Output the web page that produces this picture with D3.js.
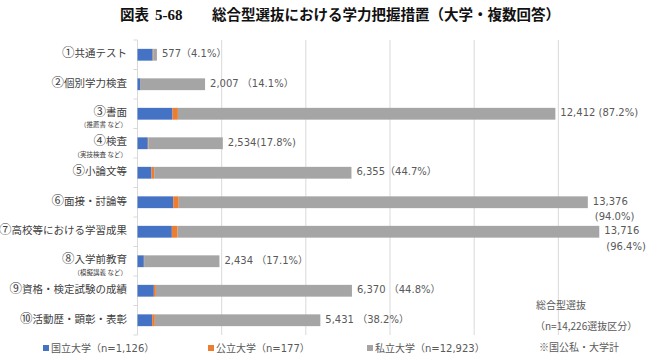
<!DOCTYPE html>
<html><head><meta charset="utf-8">
<script src="https://cdn.jsdelivr.net/npm/d3@7"></script>
<style>body{margin:0;background:#fff}svg{display:block}</style>
</head><body>
<svg id="c" width="650" height="361"></svg>
<script>
const categories = ["①共通テスト","②個別学力検査","③書面","④検査","⑤小論文等","⑥面接・討論等","⑦高校等における学習成果","⑧入学前教育","⑨資格・検定試験の成績","⑩活動歴・顕彰・表彰"];
const subLabels = ["","","（推薦書 など）","（実技検査 など）","","","","（模擬講義 など）","",""];
const national = [450, 90, 1040, 306, 415, 1060, 1020, 188, 485, 435];
const publicU  = [17, 7, 160, 20, 80, 165, 170, 8, 60, 80];
const privateU = [110, 1910, 11212, 2208, 5860, 12151, 12526, 2238, 5825, 4916];
const totals   = [577, 2007, 12412, 2534, 6355, 13376, 13716, 2434, 6370, 5431];
const valueLabels = [["577（4.1%）"],["2,007 （14.1%）"],["12,412 (87.2%)"],["2,534(17.8%)"],["6,355（44.7%）"],["13,376","(94.0%)"],["13,716","(96.4%)"],["2,434 （17.1%）"],["6,370 （44.8%）"],["5,431 （38.2%）"]];
const seriesNames = ["国立大学（n=1,126）","公立大学（n=177）","私立大学（n=12,923）"];
const xTicks = [2500, 5000, 7500, 10000, 12500];
const titlePrefix = "図表";
const titleNum = "5-68";
const titleMain = "総合型選抜における学力把握措置（大学・複数回答）";
const notes = ["総合型選抜","（n=14,226選抜区分）","※国公私・大学計"];

const colors = ["#4472C4","#ED7D31","#A5A5A5"];
const svg = d3.select("#c");
const jp = "'Noto Sans CJK JP','Noto Sans',sans-serif";
const num = "'DejaVu Sans','Noto Sans CJK JP',sans-serif";

const x = d3.scaleLinear().domain([0,15000]).range([137.5,642.5]);
const y = d3.scaleBand().domain(categories).range([40,335]).paddingInner(0.6).paddingOuter(0.3);

// gridlines
svg.append("g").selectAll("line").data(xTicks).join("line")
  .attr("x1",d=>x(d)).attr("x2",d=>x(d)).attr("y1",40).attr("y2",335)
  .attr("stroke","#d9d9d9").attr("stroke-width",1);

// left axis line and ticks
const gap = (y.step()-y.bandwidth())/2;
const bounds = categories.map(c=>y(c)-gap).concat([y(categories[9])+y.bandwidth()+gap]);
svg.append("line").attr("x1",x(0)).attr("x2",x(0)).attr("y1",40).attr("y2",335).attr("stroke","#d9d9d9");
svg.append("g").selectAll("line").data(bounds).join("line")
  .attr("x1",x(0)-4).attr("x2",x(0)).attr("y1",d=>d).attr("y2",d=>d).attr("stroke","#d9d9d9");

// stacked bars
const rows = categories.map((c,i)=>({c, v:[national[i],publicU[i],privateU[i]]}));
const stack = d3.stack().keys([0,1,2]).value((d,k)=>d.v[k]);
const stacked = stack(rows);
svg.append("g").selectAll("g").data(stacked).join("g").attr("fill",(d,i)=>colors[i])
  .selectAll("rect").data(d=>d).join("rect")
  .attr("x",d=>x(d[0])).attr("width",d=>x(d[1])-x(d[0]))
  .attr("y",d=>y(d.data.c)).attr("height",y.bandwidth());

// category labels
categories.forEach((c,i)=>{
  const cy = y(c)+y.bandwidth()/2;
  const hasSub = subLabels[i] !== "";
  const t = svg.append("text").attr("x",127).attr("y",cy+(hasSub?-1.5:-1)).attr("dy","0.35em")
    .attr("text-anchor","end").attr("font-family",jp).attr("font-size",10.5).attr("fill","#404040");
  t.append("tspan").attr("font-size",12.5).text(c.slice(0,1));
  t.append("tspan").text(c.slice(1));
  if(hasSub){
    svg.append("text").attr("x",127).attr("y",cy+11).attr("dy","0.35em")
      .attr("text-anchor","end").attr("font-family",jp).attr("font-size",6.5).attr("fill","#404040").text(subLabels[i]);
  }
});

// value labels
categories.forEach((c,i)=>{
  const cy = y(c)+y.bandwidth()/2;
  const lines = valueLabels[i];
  const t = svg.append("text").attr("font-family",num).attr("font-size",10).attr("fill","#595959");
  lines.forEach((l,j)=>{
    t.append("tspan").attr("x",x(totals[i])+5+(j>0?2:0)).attr("y",cy-1+j*15.5).attr("dy","0.35em").text(l);
  });
});

// title
const tt = svg.append("text").attr("y",20).attr("font-weight","bold").attr("fill","#111").attr("font-size",14.5);
tt.append("tspan").attr("x",120).attr("font-family",jp).text(titlePrefix);
tt.append("tspan").attr("x",155).attr("font-family","'Liberation Serif',serif").attr("font-size",15).text(titleNum);
tt.append("tspan").attr("x",212).attr("font-family",jp).text(titleMain);

// legend
const lx = [43, 208, 367];
seriesNames.forEach((s,i)=>{
  svg.append("rect").attr("x",lx[i]).attr("y",345).attr("width",6).attr("height",6).attr("fill",colors[i]);
  svg.append("text").attr("x",lx[i]+8).attr("y",348).attr("dy","0.35em").attr("font-family",num)
    .attr("font-size",10).attr("fill","#595959").text(s);
});

// notes
const ny = [305, 326, 347];
const nx = [536, 535, 539];
notes.forEach((n,i)=>{
  svg.append("text").attr("x",nx[i]).attr("y",ny[i]).attr("dy","0.35em").attr("font-family",jp)
    .attr("font-size",10).attr("fill","#595959").text(n);
});
</script>
</body></html>
